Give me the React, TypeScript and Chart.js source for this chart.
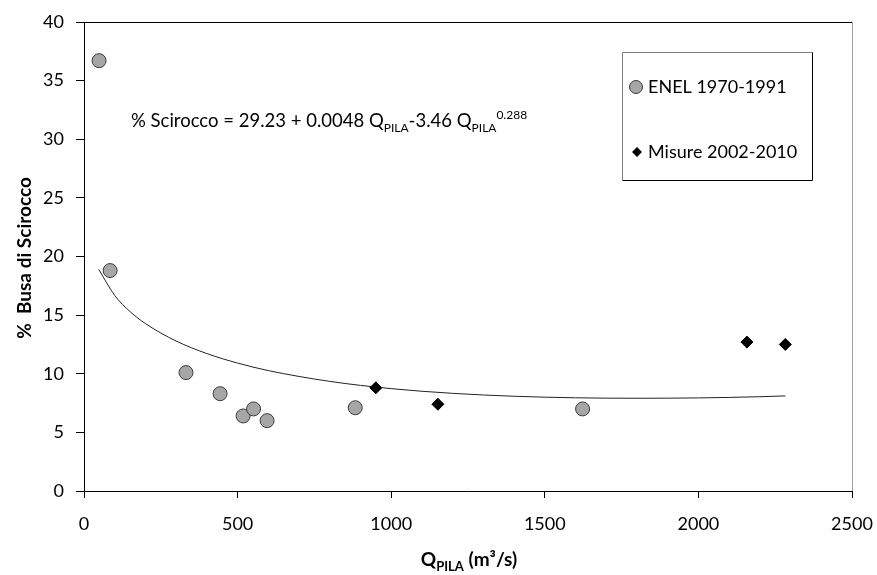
import React, { useEffect, useRef } from "react";
import { Chart, registerables } from "chart.js";
Chart.register(...registerables);

const enelQ = [49, 85, 332, 443, 518, 552, 596, 883, 1623];
const enelPct = [36.7, 18.8, 10.1, 8.3, 6.4, 7.0, 6.0, 7.1, 7.0];
const misureQ = [950, 1152, 2158, 2283];
const misurePct = [8.8, 7.4, 12.7, 12.5];
const fitQ = [48, 100, 150, 200, 300, 400, 500, 600, 800, 1000, 1200, 1400, 1600, 1800, 2000, 2200, 2283];
const fitPct = [18.9, 16.68, 15.3, 14.28, 12.79, 11.72, 10.91, 10.27, 9.35, 8.73, 8.33, 8.08, 7.95, 7.91, 7.94, 8.04, 8.11];
const xTicks = [0, 500, 1000, 1500, 2000, 2500];
const yTicks = [0, 5, 10, 15, 20, 25, 30, 35, 40];
const legendLabels = ["ENEL 1970-1991", "Misure 2002-2010"];

const FONT = "Lato, 'Open Sans', sans-serif";

type Seg = { t: string; k?: "sub" | "sup" };

function drawRich(ctx: CanvasRenderingContext2D, segs: Seg[], x: number, y: number, size: number, bold: boolean, align: "left" | "center") {
  const w = bold ? "bold " : "";
  const small = Math.round(size * 0.66);
  const fontFor = (s: Seg) => `${w}${s.k ? small : size}px ${FONT}`;
  let total = 0;
  for (const s of segs) {
    ctx.font = fontFor(s);
    total += ctx.measureText(s.t).width;
  }
  let cx = align === "center" ? x - total / 2 : x;
  ctx.textBaseline = "alphabetic";
  ctx.textAlign = "left";
  for (const s of segs) {
    ctx.font = fontFor(s);
    const dy = s.k === "sub" ? size * 0.28 : s.k === "sup" ? -size * 0.45 : 0;
    ctx.fillText(s.t, cx, y + dy);
    cx += ctx.measureText(s.t).width;
  }
}

const decorPlugin = {
  id: "decor",
  afterDraw(chart: any) {
    const ctx = chart.ctx as CanvasRenderingContext2D;
    const a = chart.chartArea;
    ctx.save();
    ctx.lineWidth = 1;
    ctx.strokeStyle = "#000";
    ctx.beginPath();
    ctx.moveTo(a.left, Math.round(a.top) + 0.5);
    ctx.lineTo(a.right, Math.round(a.top) + 0.5);
    ctx.stroke();
    ctx.strokeStyle = "#a0a0a0";
    ctx.beginPath();
    ctx.moveTo(Math.round(a.right) + 0.5, a.top);
    ctx.lineTo(Math.round(a.right) + 0.5, a.bottom);
    ctx.stroke();

    ctx.fillStyle = "#000";
    drawRich(
      ctx,
      [
        { t: "% Scirocco = 29.23 + 0.0048 Q" },
        { t: "PILA", k: "sub" },
        { t: "-3.46 Q" },
        { t: "PILA", k: "sub" },
        { t: "0.288", k: "sup" },
      ],
      131,
      127,
      18.5,
      false,
      "left"
    );

    // legend box
    const lx = 622.5, ly = 52.5, lw = 190, lh = 128;
    ctx.fillStyle = "#fff";
    ctx.fillRect(lx, ly, lw, lh);
    ctx.strokeStyle = "#808080";
    ctx.beginPath();
    ctx.moveTo(lx, ly + lh);
    ctx.lineTo(lx, ly);
    ctx.lineTo(lx + lw, ly);
    ctx.stroke();
    ctx.strokeStyle = "#000";
    ctx.beginPath();
    ctx.moveTo(lx + lw, ly);
    ctx.lineTo(lx + lw, ly + lh);
    ctx.lineTo(lx, ly + lh);
    ctx.stroke();

    const ds = chart.data.datasets;
    const items = [
      { y: 87, d: ds[0] },
      { y: 152, d: ds[1] },
    ];
    items.forEach((it, i) => {
      ctx.fillStyle = it.d.backgroundColor;
      ctx.strokeStyle = it.d.borderColor;
      ctx.lineWidth = 1;
      if (i === 0) {
        ctx.beginPath();
        ctx.arc(636, it.y, 6.5, 0, Math.PI * 2);
        ctx.fill();
        ctx.stroke();
      } else {
        ctx.beginPath();
        ctx.moveTo(637, it.y - 5);
        ctx.lineTo(642, it.y);
        ctx.lineTo(637, it.y + 5);
        ctx.lineTo(632, it.y);
        ctx.closePath();
        ctx.fill();
      }
      ctx.fillStyle = "#000";
      ctx.font = `18px ${FONT}`;
      ctx.textAlign = "left";
      ctx.textBaseline = "middle";
      ctx.fillText(legendLabels[i], 648, it.y);
    });

    // x title
    ctx.fillStyle = "#000";
    drawRich(ctx, [{ t: "Q" }, { t: "PILA", k: "sub" }, { t: " (m³/s)" }], 469, 566, 19, true, "center");

    // y title
    ctx.translate(25, 258);
    ctx.rotate(-Math.PI / 2);
    ctx.font = `bold 19px ${FONT}`;
    ctx.textAlign = "center";
    ctx.textBaseline = "middle";
    ctx.fillText("%  Busa di Scirocco", 0, 0);
    ctx.restore();
  },
};

export default function App() {
  const ref = useRef<HTMLCanvasElement | null>(null);
  useEffect(() => {
    document.body.style.margin = "0";
    const canvas = ref.current!;
    const chart = new Chart(canvas, {
      type: "scatter",
      data: {
        datasets: [
          {
            label: legendLabels[0],
            data: enelQ.map((q, i) => ({ x: q, y: enelPct[i] })),
            pointStyle: "circle",
            pointRadius: 7,
            backgroundColor: "#a6a6a6",
            borderColor: "#3a3a3a",
            borderWidth: 1,
            order: 1,
          },
          {
            label: legendLabels[1],
            data: misureQ.map((q, i) => ({ x: q, y: misurePct[i] })),
            pointStyle: "rectRot",
            pointRadius: 6,
            backgroundColor: "#000",
            borderColor: "#000",
            borderWidth: 1,
            order: 0,
          },
          {
            label: "fit",
            type: "line",
            data: fitQ.map((q, i) => ({ x: q, y: fitPct[i] })),
            showLine: true,
            pointRadius: 0,
            borderColor: "#222",
            borderWidth: 1,
            cubicInterpolationMode: "monotone",
            fill: false,
            order: 2,
          } as any,
        ],
      },
      options: {
        responsive: false,
        animation: false,
        layout: { padding: { top: 22, right: 25, left: 0, bottom: 0 } },
        plugins: { legend: { display: false }, tooltip: { enabled: false } },
        scales: {
          x: {
            type: "linear",
            min: 0,
            max: 2500,
            afterBuildTicks: (axis: any) => {
              axis.ticks = xTicks.map((v) => ({ value: v }));
            },
            afterFit: (axis: any) => {
              axis.height = 84;
              axis.paddingLeft = 0;
              axis.paddingRight = 0;
            },
            grid: { drawOnChartArea: false, drawTicks: true, tickLength: 7, color: "#000" },
            border: { color: "#000", width: 1 },
            ticks: { color: "#000", font: { family: FONT, size: 18 }, padding: 15, callback: (v: any) => String(v) },
          },
          y: {
            type: "linear",
            min: 0,
            max: 40,
            afterBuildTicks: (axis: any) => {
              axis.ticks = yTicks.map((v) => ({ value: v }));
            },
            afterFit: (axis: any) => {
              axis.width = 84;
              axis.paddingTop = 0;
              axis.paddingBottom = 0;
            },
            grid: { drawOnChartArea: false, drawTicks: true, tickLength: 8, color: "#000" },
            border: { color: "#000", width: 1 },
            ticks: { color: "#000", font: { family: FONT, size: 18 }, padding: 12, callback: (v: any) => String(v) },
          },
        },
      } as any,
      plugins: [decorPlugin],
    });
    return () => chart.destroy();
  }, []);
  return (
    <div style={{ width: 877, height: 575, background: "#fff" }}>
      <canvas ref={ref} width={877} height={575} style={{ width: 877, height: 575, display: "block" }} />
    </div>
  );
}
